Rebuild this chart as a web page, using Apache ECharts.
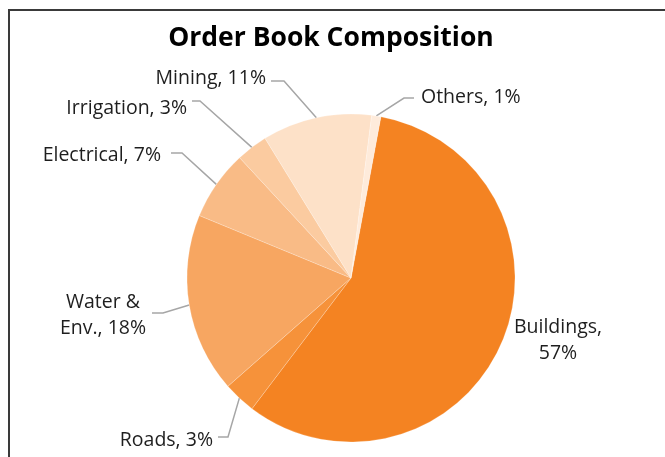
<!DOCTYPE html>
<html>
<head>
<meta charset="utf-8">
<script src="https://cdn.jsdelivr.net/npm/echarts@6/dist/echarts.min.js"></script>
<style>
  html, body { margin: 0; padding: 0; background: #fff; }
  #chart { width: 665px; height: 457px; }
</style>
</head>
<body>
<div id="chart"></div>
<script>
// slice data, clockwise from the Buildings slice
const categories = ['Buildings', 'Roads', 'Water &\nEnv.', 'Electrical', 'Irrigation', 'Mining', 'Others'];
const shares = [57.4, 3.2, 17.7, 6.9, 3.1, 10.8, 0.9];
const sliceColors = ['#F48322', '#F6923A', '#F7A661', '#F9BB86', '#FBCBA0', '#FDE1C8', '#FEEBDB'];

// where each label sits and the elbow of its leader line (Excel style)
const labelSpots = [
    { x: 558, y: 340, align: 'center' },
    { x: 213, y: 440, align: 'right', elbow: [[218, 437], [228, 437]] },
    { x: 103, y: 315, align: 'center', elbow: [[152, 313], [163, 313]] },
    { x: 161, y: 155, align: 'right', elbow: [[171, 153], [182, 153]] },
    { x: 187, y: 108, align: 'right', elbow: [[192, 101], [200, 101]] },
    { x: 266, y: 78, align: 'right', elbow: [[271, 81], [284, 81]] },
    { x: 421, y: 97, align: 'left', elbow: [[414, 98], [404, 98]] }
];

const chart = echarts.init(document.getElementById('chart'));

const option = {
    animation: false,
    title: {
        text: 'Order Book Composition',
        left: 326,
        textAlign: 'center',
        top: 20,
        textStyle: {
            fontFamily: 'Open Sans',
            fontWeight: 'bold',
            fontSize: 26.5,
            color: '#000'
        }
    },
    graphic: [
        { type: 'line', shape: { x1: 9, y1: 10, x2: 665, y2: 10 }, style: { stroke: '#3a3a3a', lineWidth: 2 } },
        { type: 'line', shape: { x1: 9, y1: 9, x2: 9, y2: 457 }, style: { stroke: '#3a3a3a', lineWidth: 2 } }
    ],
    series: [
        {
            type: 'pie',
            center: [351, 278],
            radius: 164,
            startAngle: 79.5,
            clockwise: true,
            avoidLabelOverlap: false,
            percentPrecision: 0,
            itemStyle: {
                borderColor: 'rgba(255,255,255,0.35)',
                borderWidth: 0.6
            },
            label: {
                show: true,
                position: 'outside',
                formatter: '{b}, {d}%',
                fontFamily: 'Open Sans',
                fontSize: 19.5,
                lineHeight: 26,
                color: '#1e1e1e'
            },
            labelLine: {
                show: true,
                length: 10,
                length2: 10,
                smooth: false,
                lineStyle: { color: '#a6a6a6', width: 1.5 }
            },
            labelLayout: function (params) {
                const spot = labelSpots[params.dataIndex];
                const out = { x: spot.x, y: spot.y, align: spot.align, verticalAlign: 'middle' };
                if (spot.elbow && params.labelLinePoints) {
                    out.labelLinePoints = [params.labelLinePoints[0], spot.elbow[1], spot.elbow[0]];
                }
                return out;
            },
            data: categories.map(function (name, i) {
                const item = { name: name, value: shares[i], itemStyle: { color: sliceColors[i] } };
                if (i === 0) {
                    item.label = { formatter: '{b},\n{d}%' };
                    item.labelLine = { show: false };
                }
                if (i === 2) {
                    item.label = { formatter: '{b}, {d}%', align: 'center' };
                }
                return item;
            })
        }
    ]
};

chart.setOption(option);
</script>
</body>
</html>
